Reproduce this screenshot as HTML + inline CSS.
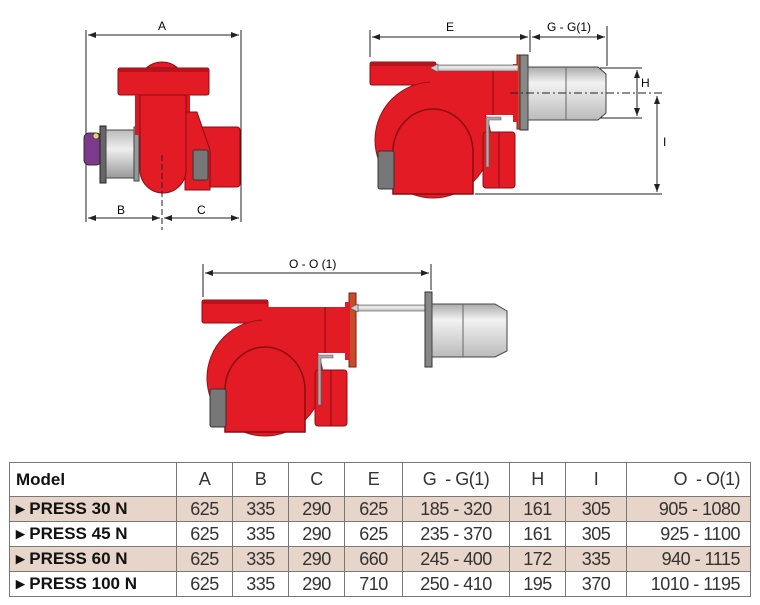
<!DOCTYPE html>
<html><head><meta charset="utf-8"><style>
body{margin:0;background:#fff;width:760px;height:605px;overflow:hidden;font-family:"Liberation Sans",sans-serif}
svg{position:absolute;left:0;top:0}
table{position:absolute;left:9px;top:462px;width:742px;border-collapse:collapse;font-family:"Liberation Sans",sans-serif;font-size:18px}
td{border:1px solid #777;text-align:center;height:24px;padding:0;color:#333;font-weight:normal;letter-spacing:-0.5px}
tr.h td{height:33px}
td.m{text-align:left;font-weight:bold;padding-left:6px;letter-spacing:0;color:#111;font-size:17px}
tr.s td{background:#e6d5c8}
table{border:1.5px solid #444}
</style></head><body>
<svg width="760" height="460" viewBox="0 0 760 460" font-family="Liberation Sans, sans-serif" font-size="12">
<defs>
<marker id="ar" markerWidth="8" markerHeight="6" refX="8" refY="3" orient="auto-start-reverse"><path d="M0,0L8,3L0,6z" fill="#222"/></marker>
<linearGradient id="gr" x1="0" y1="0" x2="0" y2="1"><stop offset="0" stop-color="#bbb"/><stop offset=".4" stop-color="#eee"/><stop offset="1" stop-color="#999"/></linearGradient>
<linearGradient id="gh" x1="0" y1="0" x2="0" y2="1"><stop offset="0" stop-color="#aaa"/><stop offset=".3" stop-color="#f2f2f2"/><stop offset="1" stop-color="#bbb"/></linearGradient>
<g id="burner">
 <rect x="202" y="300" width="66" height="23" rx="2" fill="#e21b25" stroke="#8a0d12"/>
 <rect x="202" y="300" width="66" height="4" fill="#b5141c"/>
 <circle cx="265" cy="378" r="58" fill="#e21b25" stroke="#9a1016"/>
 <rect x="262" y="307" width="88" height="46" fill="#e21b25"/>
 <line x1="325" y1="307" x2="325" y2="353" stroke="#8a0d12"/>
 <path d="M225,432 V390 A40,43 0 0 1 305,390 V432 Z" fill="#e21b25" stroke="#8a0d12" stroke-width="1.5"/>
 <rect x="210" y="389" width="16" height="38" rx="2" fill="#777" stroke="#333"/>
 <rect x="315" y="370" width="32" height="56" rx="3" fill="#e21b25" stroke="#8a0d12"/>
 <line x1="331" y1="370" x2="331" y2="426" stroke="#8a0d12"/>
 <path d="M318,355 H333 V358 H321 V405 H318 Z" fill="#aaa" stroke="#555" stroke-width=".6"/>
 <rect x="349" y="293" width="7" height="74" fill="#c74d2a" stroke="#7a1a10"/>
 <rect x="345" y="302" width="5" height="58" fill="#e21b25"/>
</g>
</defs>
<g stroke="#222" stroke-width="1" fill="none">
 <line x1="86" y1="30" x2="86" y2="222"/><line x1="241" y1="30" x2="241" y2="222"/>
 <line x1="88" y1="35" x2="239" y2="35" marker-start="url(#ar)" marker-end="url(#ar)"/>
 <line x1="88" y1="218" x2="160" y2="218" marker-start="url(#ar)" marker-end="url(#ar)"/>
 <line x1="164" y1="218" x2="239" y2="218" marker-start="url(#ar)" marker-end="url(#ar)"/>
</g>
<text x="158" y="30" font-size="12">A</text><text x="117" y="214" font-size="12">B</text><text x="197" y="214" font-size="12">C</text>
<rect x="84" y="133" width="17" height="32" rx="5" fill="#7b3a8c" stroke="#333"/>
<circle cx="96" cy="136" r="3" fill="#e8d070" stroke="#333" stroke-width=".6"/>
<rect x="100" y="126" width="6" height="57" fill="#666" stroke="#222"/>
<rect x="106" y="130" width="30" height="48" fill="url(#gr)" stroke="#444"/>
<rect x="134" y="127" width="5" height="54" fill="#999" stroke="#444"/>
<ellipse cx="162" cy="82" rx="22" ry="20" fill="#e21b25" stroke="#8a0d12"/>
<rect x="118" y="68" width="91" height="27" rx="2" fill="#e21b25" stroke="#8a0d12"/>
<rect x="118" y="68" width="91" height="4" fill="#b5141c"/>
<rect x="135" y="95" width="55" height="40" fill="#d81820"/>
<rect x="188" y="127" width="52" height="60" rx="3" fill="#e21b25" stroke="#8a0d12"/>
<path d="M185,112 H197 L210,150 V190 H185 Z" fill="#e21b25" stroke="#8a0d12"/>
<rect x="193" y="150" width="15" height="30" rx="2" fill="#777" stroke="#333"/>
<path d="M140,95 V170 A22,22 0 0 0 186,170 V95 Z" fill="#e21b25" stroke="#8a0d12"/>
<line x1="162" y1="155" x2="162" y2="230" stroke="#222" stroke-dasharray="6,3"/>
<use href="#burner" transform="translate(168,-238)"/>
<rect x="436" y="65" width="82" height="6" fill="url(#gh)" stroke="#555" stroke-width=".6"/>
<path d="M430,68 L438,64 V72 Z" fill="#ccc" stroke="#555" stroke-width=".6"/>
<rect x="520" y="55" width="8" height="75" fill="#888" stroke="#333"/>
<path d="M528,67 H598 L606,74 V113 L598,120 H528 Z" fill="url(#gh)" stroke="#444"/>
<line x1="566" y1="67" x2="566" y2="120" stroke="#666"/>
<g stroke="#222" fill="none">
 <line x1="370" y1="30" x2="370" y2="57"/><line x1="530" y1="30" x2="530" y2="52"/><line x1="607" y1="26" x2="607" y2="66"/>
 <line x1="372" y1="37" x2="528" y2="37" marker-start="url(#ar)" marker-end="url(#ar)"/>
 <line x1="532" y1="37" x2="605" y2="37" marker-start="url(#ar)" marker-end="url(#ar)"/>
 <line x1="600" y1="68" x2="642" y2="68"/><line x1="600" y1="118" x2="642" y2="118"/>
 <line x1="637" y1="70" x2="637" y2="116" marker-start="url(#ar)" marker-end="url(#ar)"/>
 <line x1="510" y1="93" x2="662" y2="93" stroke-dasharray="8,3,2,3"/>
 <line x1="475" y1="194" x2="662" y2="194"/>
 <line x1="657" y1="96" x2="657" y2="192" marker-start="url(#ar)" marker-end="url(#ar)"/>
</g>
<text x="446" y="31">E</text><text x="547" y="31">G - G(1)</text><text x="641" y="87">H</text><text x="663" y="146">I</text>
<use href="#burner"/>
<rect x="358" y="305" width="68" height="6" fill="url(#gh)" stroke="#555" stroke-width=".6"/>
<path d="M350,308 L358,304 V312 Z" fill="#ccc" stroke="#555" stroke-width=".6"/>
<rect x="425" y="292" width="7" height="75" fill="#888" stroke="#333"/>
<path d="M432,304 H495 L507,311 V351 L495,357 H432 Z" fill="url(#gh)" stroke="#444"/>
<line x1="463" y1="304" x2="463" y2="357" stroke="#666"/>
<g stroke="#222" fill="none">
 <line x1="203" y1="264" x2="203" y2="297"/><line x1="431" y1="264" x2="431" y2="290"/>
 <line x1="205" y1="273" x2="429" y2="273" marker-start="url(#ar)" marker-end="url(#ar)"/>
</g>
<text x="289" y="268">O - O (1)</text>
</svg>
<table>
<tr class="h"><td class="m" style="width:160px">Model</td><td style="width:55px">A</td><td style="width:55px">B</td><td style="width:55px">C</td><td style="width:57px">E</td><td style="width:106px">G &nbsp;- G(1)</td><td style="width:55px">H</td><td style="width:60px">I</td><td style="text-align:right;padding-right:10px">O &nbsp;- O(1)</td></tr>
<tr class="s"><td class="m">▸ PRESS 30 N</td><td>625</td><td>335</td><td>290</td><td>625</td><td>185 - 320</td><td>161</td><td>305</td><td style="text-align:right;padding-right:10px">905 - 1080</td></tr>
<tr><td class="m">▸ PRESS 45 N</td><td>625</td><td>335</td><td>290</td><td>625</td><td>235 - 370</td><td>161</td><td>305</td><td style="text-align:right;padding-right:10px">925 - 1100</td></tr>
<tr class="s"><td class="m">▸ PRESS 60 N</td><td>625</td><td>335</td><td>290</td><td>660</td><td>245 - 400</td><td>172</td><td>335</td><td style="text-align:right;padding-right:10px">940 - 1115</td></tr>
<tr><td class="m">▸ PRESS 100 N</td><td>625</td><td>335</td><td>290</td><td>710</td><td>250 - 410</td><td>195</td><td>370</td><td style="text-align:right;padding-right:10px">1010 - 1195</td></tr>
</table>
</body></html>
